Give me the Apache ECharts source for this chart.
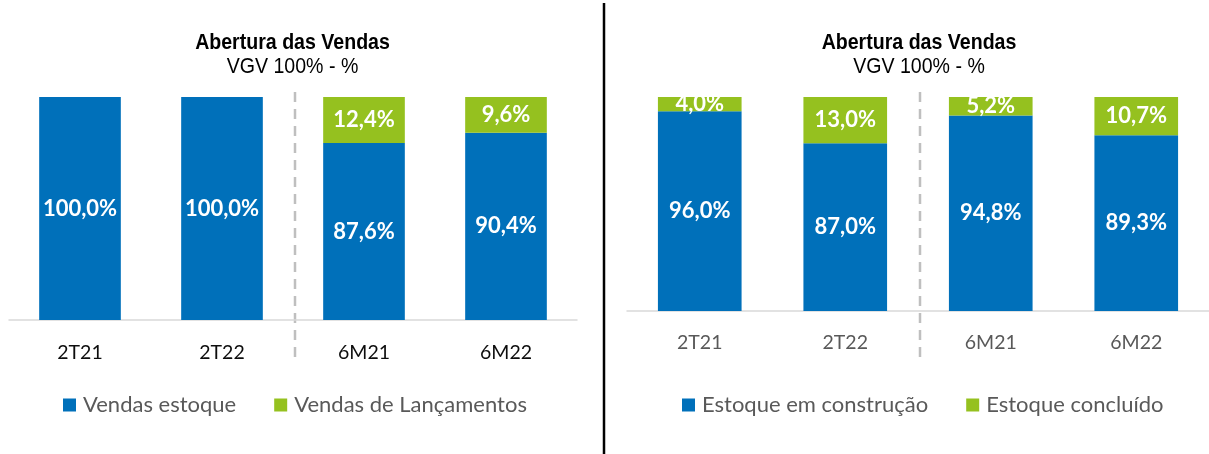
<!DOCTYPE html>
<html><head><meta charset="utf-8">
<script src="https://cdn.jsdelivr.net/npm/echarts@6/dist/echarts.min.js"></script>
<style>html,body{margin:0;padding:0;background:#fff}#c{width:1209px;height:454px}</style>
</head><body><div id="c"></div>
<script>
const categories = ['2T21', '2T22', '6M21', '6M22'];
const leftNames = ['Vendas estoque', 'Vendas de Lançamentos'];
const leftEstoque = [100.0, 100.0, 87.6, 90.4];
const leftLancamentos = [0, 0, 12.4, 9.6];
const rightNames = ['Estoque em construção', 'Estoque concluído'];
const rightConstrucao = [96.0, 87.0, 94.8, 89.3];
const rightConcluido = [4.0, 13.0, 5.2, 10.7];
const titleText = 'Abertura das Vendas';
const subText = 'VGV 100% - %';
const yMin = 40, yMax = 100;

const BLUE = '#0070BA', GREEN = '#95C11F';
const FONT = 'Lato, "Open Sans", sans-serif';
const fmt = p => p.value ? p.value.toFixed(1).replace('.', ',') + '%' : '';

const chart = echarts.init(document.getElementById('c'), null, {renderer: 'canvas'});

function xAx(idx, color, margin) {
  return {
    type: 'category', gridIndex: idx, data: categories,
    axisLine: {lineStyle: {color: '#D9D9D9', width: 1.5}},
    axisTick: {show: false},
    axisLabel: {color: color, fontFamily: FONT, fontSize: 19.5, margin: margin}
  };
}
function yAx(idx) {
  return {type: 'value', gridIndex: idx, min: yMin, max: yMax, show: false, splitLine: {show: false}};
}
function bar(name, data, idx, color, stack) {
  return {
    type: 'bar', name: name, data: data, xAxisIndex: idx, yAxisIndex: idx, stack: stack,
    barWidth: '57.5%', itemStyle: {color: color}, silent: true,
    label: {show: true, position: 'inside', formatter: fmt, color: '#fff', fontFamily: FONT, fontWeight: 'bold', fontSize: 22}
  };
}
function legend(names, x) {
  return {
    data: names, left: x, top: 394, itemWidth: 13, itemHeight: 13, itemGap: 38, padding: 0,
    icon: 'rect', textStyle: {color: '#595959', fontFamily: FONT, fontSize: 22, padding: [0, 0, 0, 2]}
  };
}
function titleTexts(x) {
  return [
    {type: 'text', x: x, y: 43, scaleX: 0.87, silent: true,
     style: {text: titleText, font: 'bold 22.5px "Liberation Sans", Arial', fill: '#000', align: 'center', verticalAlign: 'middle'}},
    {type: 'text', x: x, y: 67, scaleX: 0.87, silent: true,
     style: {text: subText, font: '22.5px "Liberation Sans", Arial', fill: '#000', align: 'center', verticalAlign: 'middle'}}
  ];
}

chart.setOption({
  animation: false,
  legend: [legend(leftNames, 63), legend(rightNames, 682)],
  grid: [
    {left: 9, right: 632, top: 97, bottom: 134},
    {left: 627, right: -3, top: 97, bottom: 143}
  ],
  xAxis: [xAx(0, '#0D0D0D', 23), xAx(1, '#595959', 22)],
  yAxis: [yAx(0), yAx(1)],
  series: [
    bar(leftNames[0], leftEstoque, 0, BLUE, 'L'),
    bar(leftNames[1], leftLancamentos, 0, GREEN, 'L'),
    bar(rightNames[0], rightConstrucao, 1, BLUE, 'R'),
    bar(rightNames[1], rightConcluido, 1, GREEN, 'R')
  ]
});

function mid(idx) {
  const a = chart.convertToPixel({xAxisIndex: idx}, categories[1]);
  const b = chart.convertToPixel({xAxisIndex: idx}, categories[2]);
  return (a + b) / 2 + 2;
}
const xl = mid(0), xr = mid(1);
chart.setOption({
  graphic: [].concat(titleTexts(292.5), titleTexts(919), [
    {type: 'line', shape: {x1: xl, y1: 92, x2: xl, y2: 364}, style: {stroke: '#BFBFBF', lineWidth: 2.5, lineDash: [10, 7]}, silent: true},
    {type: 'line', shape: {x1: xr, y1: 92, x2: xr, y2: 357}, style: {stroke: '#BFBFBF', lineWidth: 2.5, lineDash: [10, 7]}, silent: true},
    {type: 'line', shape: {x1: 604, y1: 3, x2: 604, y2: 454}, style: {stroke: '#000', lineWidth: 2.5}, silent: true}
  ])
});
</script></body></html>
